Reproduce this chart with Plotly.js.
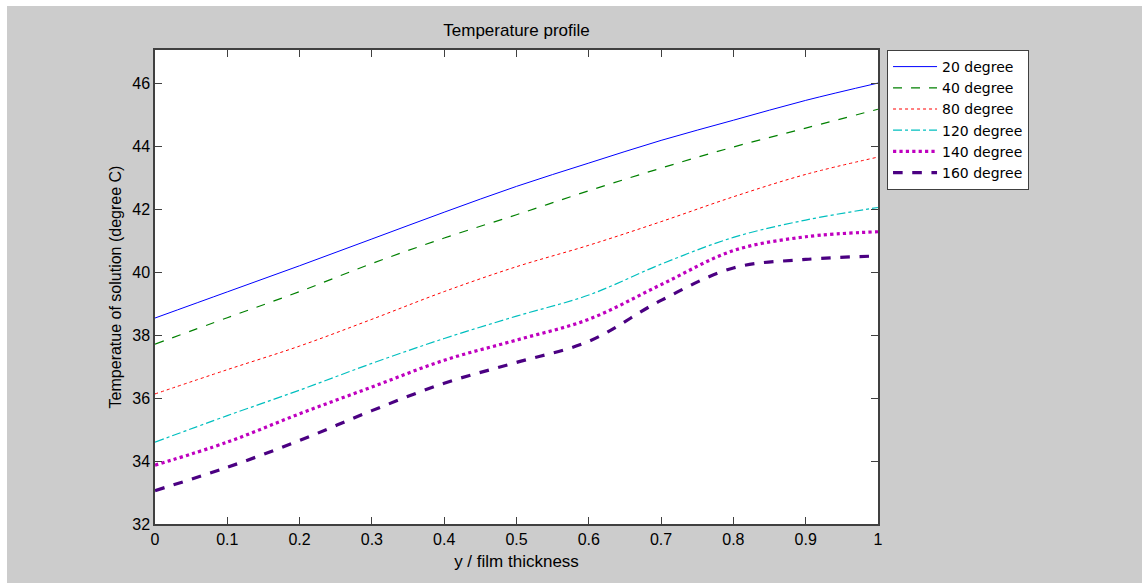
<!DOCTYPE html>
<html>
<head>
<meta charset="utf-8">
<script src="https://cdn.plot.ly/plotly-3.0.1.min.js"></script>
<style>
html,body{margin:0;padding:0;background:#ffffff;width:1142px;height:583px;overflow:hidden;}
#chart{position:absolute;left:7px;top:6px;width:1135px;height:577px;}
</style>
</head>
<body>
<div id="chart"></div>
<script>
const xPos = [0, 0.1, 0.2, 0.3, 0.4, 0.5, 0.6, 0.7, 0.8, 0.9, 1.0];
const seriesNames = ["20 degree", "40 degree", "80 degree", "120 degree", "140 degree", "160 degree"];
const t20  = [38.54, 39.37, 40.2, 41.05, 41.9, 42.72, 43.46, 44.18, 44.82, 45.45, 46.0];
const t40  = [37.71, 38.55, 39.38, 40.27, 41.08, 41.82, 42.58, 43.3, 43.97, 44.57, 45.17];
const t80  = [36.13, 36.9, 37.65, 38.5, 39.38, 40.17, 40.85, 41.6, 42.39, 43.1, 43.65];
const t120 = [34.6, 35.44, 36.25, 37.1, 37.89, 38.6, 39.27, 40.25, 41.1, 41.65, 42.05];
const t140 = [33.87, 34.6, 35.5, 36.35, 37.2, 37.84, 38.5, 39.6, 40.68, 41.12, 41.28];
const t160 = [33.06, 33.8, 34.65, 35.6, 36.47, 37.13, 37.8, 39.1, 40.13, 40.4, 40.51];
const yTickVals = [32, 34, 36, 38, 40, 42, 44, 46];
const xTickVals = [0, 0.1, 0.2, 0.3, 0.4, 0.5, 0.6, 0.7, 0.8, 0.9, 1];

const series = [t20, t40, t80, t120, t140, t160];
const styles = [
  {color: "#0000ff", width: 1, dash: "solid"},
  {color: "#008000", width: 1.2, dash: "dash"},
  {color: "#ff0000", width: 1, dash: "dot"},
  {color: "#00bfbf", width: 1.2, dash: "dashdot"},
  {color: "#bf00bf", width: 3.2, dash: "dot"},
  {color: "#4b0082", width: 3.2, dash: "dash"}
];

const traces = series.map((ys, i) => ({
  x: xPos,
  y: ys,
  name: seriesNames[i],
  type: "scatter",
  mode: "lines",
  line: {color: styles[i].color, width: styles[i].width, dash: styles[i].dash, shape: "spline", smoothing: 1}
}));

const fontFam = "Liberation Sans, Arial, sans-serif";
const layout = {
  width: 1135,
  height: 577,
  paper_bgcolor: "#cccccc",
  plot_bgcolor: "#ffffff",
  margin: {l: 148, r: 264, t: 44, b: 59},
  font: {family: fontFam, size: 16, color: "#000000"},
  title: {
    text: "Temperature profile",
    font: {family: fontFam, size: 17, color: "#000000"},
    x: 0.5, xref: "paper", xanchor: "center",
    y: 1 - 24/577, yref: "container", yanchor: "middle"
  },
  showlegend: true,
  legend: {
    x: 1.0125, xanchor: "left", y: 1, yanchor: "top",
    bgcolor: "#ffffff", bordercolor: "#404040", borderwidth: 1,
    font: {family: "DejaVu Sans, sans-serif", size: 14, color: "#000000"},
    itemwidth: 44,
    tracegroupgap: 0
  },
  xaxis: {
    range: [0, 1],
    tickmode: "array", tickvals: xTickVals,
    ticks: "inside", ticklen: 7, tickcolor: "#404040", tickwidth: 1,
    showline: true, linecolor: "#404040", linewidth: 1.5, mirror: "ticks",
    showgrid: false, zeroline: false,
    tickfont: {family: fontFam, size: 16, color: "#000000"},
    title: {text: "y / film thickness", font: {family: fontFam, size: 17, color: "#000000"}, standoff: 8}
  },
  yaxis: {
    range: [32, 47.05],
    tickmode: "array", tickvals: yTickVals,
    ticks: "inside", ticklen: 7, tickcolor: "#404040", tickwidth: 1,
    showline: true, linecolor: "#404040", linewidth: 1.5, mirror: "ticks",
    showgrid: false, zeroline: false,
    tickfont: {family: fontFam, size: 16, color: "#000000"},
    title: {text: "Temperatue of solution (degree C)", font: {family: fontFam, size: 16, color: "#000000"}, standoff: 7}
  }
};

Plotly.newPlot("chart", traces, layout, {displayModeBar: false, responsive: false});
</script>
</body>
</html>
